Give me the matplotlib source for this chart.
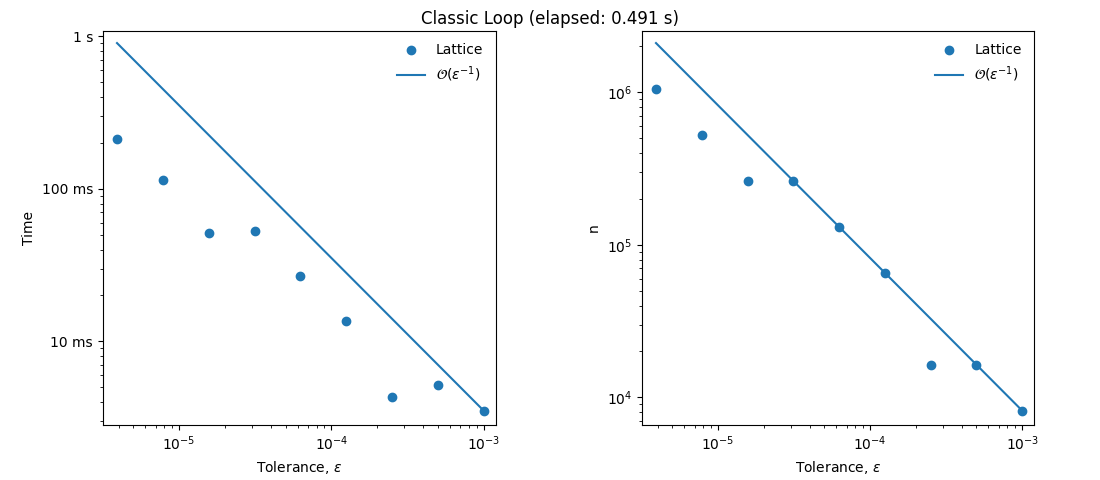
import numpy as np
import matplotlib.pyplot as plt
from matplotlib.ticker import FuncFormatter, NullFormatter

tol = [1e-3, 5e-4, 2.5e-4, 1.25e-4, 6.25e-5, 3.125e-5, 1.5625e-5, 7.8125e-6, 3.90625e-6]
times = [0.00352, 0.00520, 0.00435, 0.01368, 0.0269, 0.0531, 0.0515, 0.1146, 0.2125]
n = [8192, 16384, 16384, 65536, 131072, 262144, 262144, 524288, 1048576]
elapsed = 0.491

tol = np.array(tol)
times = np.array(times)
n = np.array(n)


def time_fmt(v, pos):
    if v >= 1:
        return f"{v:g} s"
    return f"{v * 1000:g} ms"


def log_lims(vals, lo=0.094, hi=0.079):
    lv = np.log10(vals)
    return 10 ** (lv.min() - lo), 10 ** (lv.max() + hi)


fig = plt.figure(figsize=(11, 4.8), dpi=100)
ax1 = fig.add_axes([102.7 / 1100, 55 / 480, 393 / 1100, 394 / 480])
ax2 = fig.add_axes([641.7 / 1100, 55 / 480, 392.5 / 1100, 394 / 480])

for ax, y, lab in [(ax1, times, 'Time'), (ax2, n, 'n')]:
    ref = y[0] * tol[0] / tol
    ax.plot(tol, y, 'o', color='C0', label='Lattice')
    ax.plot(tol, ref, color='C0', label=r'$\mathcal{O}(\varepsilon^{-1})$')
    ax.set_xscale('log')
    ax.set_yscale('log')
    ax.set_xlim(*log_lims(tol))
    ax.set_ylim(*log_lims(np.concatenate([y, ref])))
    ax.set_xlabel(r'Tolerance, $\varepsilon$')
    ax.set_ylabel(lab)
    ax.legend(frameon=False, loc='upper right')

ax1.yaxis.set_major_formatter(FuncFormatter(time_fmt))
ax1.yaxis.set_minor_formatter(NullFormatter())

fig.suptitle(f'Classic Loop (elapsed: {elapsed:.3f} s)')
fig.savefig('out.png', dpi=100)
